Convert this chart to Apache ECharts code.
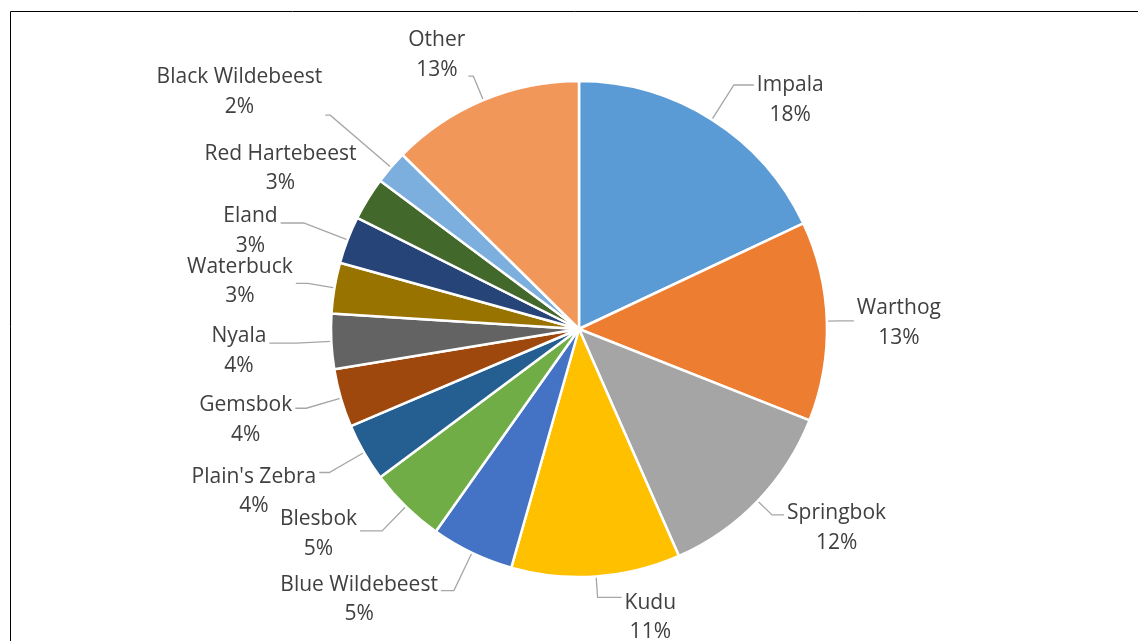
<!DOCTYPE html>
<html>
<head>
<meta charset="utf-8">
<title>Species share</title>
<script src="https://cdn.jsdelivr.net/npm/echarts@6/dist/echarts.min.js"></script>
<style>
  html, body { margin: 0; padding: 0; background: #fff; }
  #chart { width: 1138px; height: 641px; }
</style>
</head>
<body>
<div id="chart"></div>
<script>
// Species and their share of the total (percent)
const species = [
  'Impala', 'Warthog', 'Springbok', 'Kudu', 'Blue Wildebeest', 'Blesbok',
  "Plain's Zebra", 'Gemsbok', 'Nyala', 'Waterbuck', 'Eland',
  'Red Hartebeest', 'Black Wildebeest', 'Other'
];
const shares = [18.0, 13.0, 12.4, 11.0, 5.4, 5.0, 3.8, 3.8, 3.6, 3.3, 3.1, 2.8, 2.2, 12.6];
const sliceColors = [
  '#5B9BD5', '#ED7D31', '#A5A5A5', '#FFC000', '#4472C4', '#70AD47',
  '#255E91', '#9E480E', '#636363', '#997300', '#264478',
  '#43682B', '#7CAFDD', '#F1975A'
];

// Leader line lengths and label nudges, per slice
const leaderStyle = {
  'Impala':           { length: 41, length2: 20, dy: 15 },
  'Warthog':          { length: 13, length2: 14, dy: 2 },
  'Springbok':        { length: 20, length2: 12, dy: 13 },
  'Kudu':             { length: 21, length2: 24, dy: 20 },
  'Blue Wildebeest':  { length: 42, length2: 13, dy: 9 },
  'Blesbok':          { length: 34, length2: 22, dy: 3 },
  "Plain's Zebra":    { length: 40, length2: 10, dy: 19 },
  'Gemsbok':          { length: 36, length2: 11, dy: 12 },
  'Nyala':            { length: 35, length2: 27, dy: 8 },
  'Waterbuck':        { length: 27, length2: 12, dy: -2 },
  'Eland':            { length: 47, length2: 23, dy: 8 },
  'Red Hartebeest':   { length: 10, length2: 0, dy: -25, hideLine: true },
  'Black Wildebeest': { length: 80, length2: 5, dy: -23 },
  'Other':            { length: 26, length2: 5, dy: -21 }
};

const chart = echarts.init(document.getElementById('chart'), null, { renderer: 'canvas' });

const pieData = species.map((name, i) => {
  const ls = leaderStyle[name];
  return {
    name,
    value: shares[i],
    itemStyle: { color: sliceColors[i] },
    labelLine: { show: !ls.hideLine, length: ls.length, length2: ls.length2 }
  };
});

chart.setOption({
  animation: false,
  backgroundColor: '#ffffff',
  graphic: [{
    type: 'rect',
    silent: true,
    shape: { x: 10.5, y: 11.5, width: 1200, height: 700 },
    style: { fill: 'none', stroke: '#000000', lineWidth: 1 }
  }],
  series: [{
    type: 'pie',
    center: [579, 329],
    radius: [0, 248],
    startAngle: 90,
    clockwise: true,
    avoidLabelOverlap: false,
    data: pieData,
    itemStyle: { borderColor: '#ffffff', borderWidth: 2.5 },
    label: {
      show: true,
      position: 'outside',
      formatter: p => p.name + '\n' + Math.round(p.percent) + '%',
      fontFamily: 'Open Sans',
      fontSize: 21,
      lineHeight: 29.5,
      color: '#404040',
      distanceToLabelLine: 3
    },
    labelLine: {
      show: true,
      lineStyle: { color: '#A6A6A6', width: 1.3 }
    },
    labelLayout: function (params) {
      // center the two text lines within their block, block stays beside the leader line
      const w = params.labelRect.width;
      const side = params.align === 'right' ? -1 : 1;
      const ls = leaderStyle[species[params.dataIndex]];
      return { align: 'center', dx: side * w / 2, dy: ls.dy };
    },
    emphasis: { disabled: true }
  }]
});
</script>
</body>
</html>
